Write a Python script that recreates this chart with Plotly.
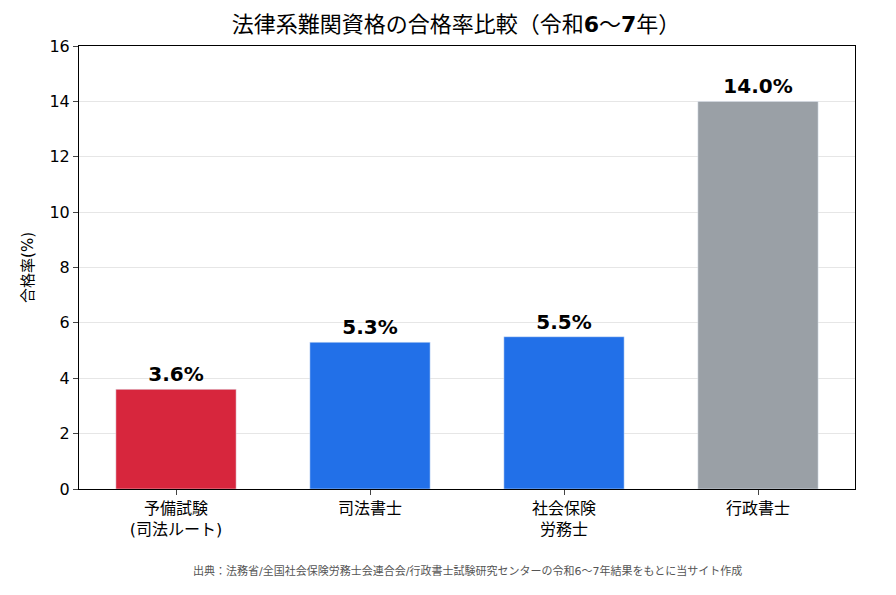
import plotly.graph_objects as go

categories = ["予備試験<br>(司法ルート)", "司法書士", "社会保険<br>労務士", "行政書士"]
values = [3.6, 5.3, 5.5, 14.0]
colors = ["#D7263D", "#2270E8", "#2270E8", "#9AA0A6"]
labels = [f"{v:.1f}%" for v in values]

fig = go.Figure(go.Bar(
    x=categories, y=values, marker_color=colors, width=0.62,
    text=labels, textposition="outside", cliponaxis=False,
    textfont=dict(size=20, color="black", family="DejaVu Sans, Noto Sans CJK JP"),
))
fig.update_traces(texttemplate="<b>%{text}</b>")
fig.update_layout(
    width=896, height=595, plot_bgcolor="white", paper_bgcolor="white",
    margin=dict(l=71, r=49, t=38, b=114, autoexpand=False),
    font=dict(family="DejaVu Sans, Noto Sans CJK JP", size=16, color="black"),
    title=dict(text="法律系難関資格の合格率比較（令和<b>6</b>〜<b>7</b>年）", x=0.5, xanchor="center",
               y=1 - 16/595, yanchor="middle", font=dict(size=22)),
    showlegend=False,
    annotations=[dict(text="出典：法務省/全国社会保険労務士会連合会/行政書士試験研究センターの令和6〜7年結果をもとに当サイト作成",
                      xref="paper", yref="paper", x=0.5, y=-0.185, yanchor="middle", showarrow=False,
                      font=dict(size=11, color="#555"))],
)
fig.update_yaxes(range=[0, 16], dtick=2, showgrid=True, gridcolor="#E6E6E6", showline=True, linecolor="black",
                 mirror=True, ticks="outside", title=dict(text="合格率(%)", font=dict(size=15), standoff=12), zeroline=False)
fig.update_xaxes(showline=True, linecolor="black", mirror=True, ticks="outside", tickfont=dict(size=16))
fig.write_html("out.html")
